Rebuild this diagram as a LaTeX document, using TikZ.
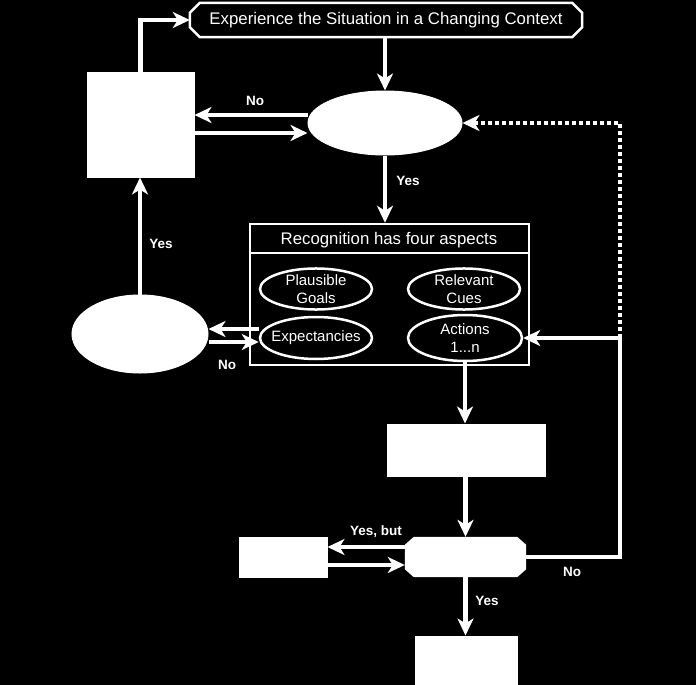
\documentclass[tikz,border=0pt]{standalone}
\usepackage{fontspec}
\setmainfont{Liberation Sans}
\usetikzlibrary{shapes.geometric,arrows.meta,calc}
\begin{document}
\begin{tikzpicture}[x=1pt,y=-1pt,
  wfill/.style={fill=white,draw=white,line width=1pt,inner sep=0pt},
  wrect/.style={wfill,rectangle},
  wellip/.style={wfill,ellipse},
  anch/.style={rectangle,inner sep=0pt},
  outl/.style={draw=white,line width=2.5pt,text=white,inner sep=0pt,align=center},
  conn/.style={draw=white,line width=4.5pt,-{Stealth[length=17pt,width=16pt,inset=5pt]}},
  plain/.style={draw=white,line width=4.5pt},
  dotl/.style={draw=white,line width=4pt,dash pattern=on 4pt off 3pt,-{Stealth[length=17pt,width=16pt,inset=5pt]}},
  lbl/.style={text=white,font=\bfseries\fontsize{13.5}{15}\selectfont},
  inner/.style={outl,ellipse,font=\fontsize{15}{18}\selectfont}]
\fill[black] (0,0) rectangle (696,685);
\useasboundingbox (0,0) rectangle (696,685);

% top octagon
\node[anch,text=white,minimum width=392pt,minimum height=34pt,font=\fontsize{16.8}{19}\selectfont] (top) at (386,20)
  {Experience the Situation in a Changing Context};
\draw[white,line width=2.5pt] ($(top.north west)+(10,0)$) -- ($(top.north east)+(-10,0)$)
  -- ($(top.north east)+(0,10)$) -- ($(top.south east)+(0,-10)$)
  -- ($(top.south east)+(-10,0)$) -- ($(top.south west)+(10,0)$)
  -- ($(top.south west)+(0,-10)$) -- ($(top.north west)+(0,10)$) -- cycle;

\node[wrect,minimum width=107pt,minimum height=104pt] (box1) at (140.5,125) {};
\node[wellip,minimum width=154pt,minimum height=64pt] (e1) at (385,123) {};
\node[wellip,minimum width=136pt,minimum height=78pt] (e2) at (140,334) {};
\node[outl,rectangle,minimum width=279pt,minimum height=141pt] (rec) at (389.5,294.5) {};
\draw[white,line width=2.5pt] ($(rec.north west)+(0,30)$) -- ($(rec.north east)+(0,30)$);
\node[text=white,font=\fontsize{16.8}{19}\selectfont] (rectitle) at (389,240) {Recognition has four aspects};
\node[inner,minimum width=112pt,minimum height=38pt] (pg) at (316,289) {Plausible\\Goals};
\node[inner,minimum width=112pt,minimum height=38pt] (rc) at (464,289) {Relevant\\Cues};
\node[inner,inner xsep=-6pt,minimum width=112pt,minimum height=42pt] (ex) at (316,338) {Expectancies};
\node[inner,minimum width=114pt,minimum height=46pt] (ac) at (465,338) {Actions\\1...n};
\node[wrect,minimum width=158pt,minimum height=52pt] (box3) at (466,450) {};

% lower octagon
\node[anch,minimum width=121pt,minimum height=40pt] (oct) at (465.5,557) {};
\fill[white] ($(oct.north west)+(9,0)$) -- ($(oct.north east)+(-9,0)$)
  -- ($(oct.north east)+(0,8)$) -- ($(oct.south east)+(0,-8)$)
  -- ($(oct.south east)+(-9,0)$) -- ($(oct.south west)+(9,0)$)
  -- ($(oct.south west)+(0,-8)$) -- ($(oct.north west)+(0,8)$) -- cycle;

\node[wrect,minimum width=88pt,minimum height=40pt] (box4) at (283,557) {};
\node[wrect,minimum width=102pt,minimum height=52pt] (box5) at (466,662) {};
\coordinate (rt) at (620,338);

% connectors
\draw[conn] (box1.north) |- (top.west);
\draw[conn] (top.south -| e1.north) -- (e1.north);
\draw[conn] ([yshift=8pt]e1.west) -- ([yshift=8pt]e1.west -| box1.east);
\draw[conn] ([yshift=-8pt]box1.east) -- ([yshift=-8pt]box1.east -| e1.west);
\draw[conn] (e1.south) -- (e1.south |- rec.north);
\draw[dotl] (rt) |- (e1.east);
\draw[plain] (oct.east) -| (rt);
\draw[conn] (rt) -- (ac.east);
\draw[conn] (ac.south) -- (ac.south |- box3.north);
\draw[conn] (box3.south -| oct.north) -- (oct.north);
\draw[conn] ([yshift=10pt]oct.west) -- ([yshift=10pt]oct.west -| box4.east);
\draw[conn] ([yshift=-8pt]box4.east) -- ([yshift=-8pt]box4.east -| oct.west);
\draw[conn] (oct.south) -- (oct.south |- box5.north);
\draw[conn] (e2.north) -- (e2.north |- box1.south);
\draw[conn] ([yshift=9pt]ex.west) -- ([yshift=9pt]ex.west -| e2.east);
\draw[conn] ([yshift=-8pt]e2.east) -- ([yshift=-8pt]e2.east -| ex.west);

% labels
\node[lbl] (l1) at (255,101) {No};
\node[lbl] (l2) at (408,181) {Yes};
\node[lbl] (l3) at (161,244) {Yes};
\node[lbl] (l4) at (227,365) {No};
\node[lbl] (l5) at (376,532) {Yes, but};
\node[lbl] (l6) at (572,572) {No};
\node[lbl] (l7) at (487,601) {Yes};
\end{tikzpicture}
\end{document}
